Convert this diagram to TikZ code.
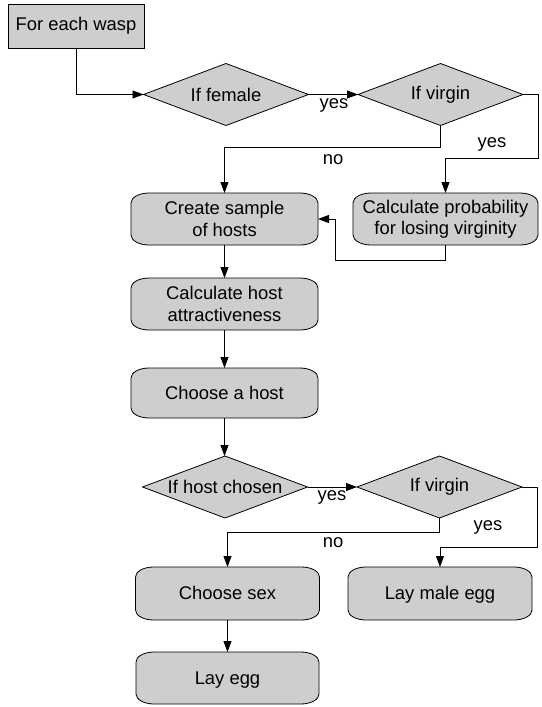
\documentclass[tikz,border=0pt]{standalone}
\usepackage{fontspec}
\setmainfont{Liberation Sans}
\usetikzlibrary{arrows.meta,shapes.geometric,backgrounds,calc}
\definecolor{boxfill}{RGB}{206,206,206}
\begin{document}
\begin{tikzpicture}[x=1pt,y=-1pt,
  every node/.style={font=\fontsize{18.4}{21.5}\selectfont, outer sep=0pt},
  startbox/.style={rectangle, draw, fill=boxfill, line width=0.8pt,
    minimum width=136pt, minimum height=44pt, inner sep=0pt},
  decision/.style={diamond, draw, fill=boxfill, line width=0.8pt, aspect=2.6,
    inner sep=0pt, minimum width=165pt, minimum height=62pt},
  procbox/.style={rectangle, align=center, inner sep=0pt,
    minimum width=186pt, minimum height=52pt},
  oneline/.style={text height=12.8pt, text depth=0pt},
  procshape/.style={draw, fill=boxfill, line width=0.8pt},
  flow/.style={draw, line width=0.8pt, -{Triangle[length=11pt,width=8pt]}},
  lbl/.style={inner sep=0pt}
]
\useasboundingbox (0,0) rectangle (541,707);

% start box and first decisions
\node[startbox] (wasp) at (76,26) {For each wasp};
\node[decision] (female) at (226,94.5) {If female};
\node[decision] (virgin) at (440.5,94.5) {If virgin};

% process steps (outlines drawn on the background layer below)
\node[procbox, minimum width=187pt] (sample) at (224.5,219) {Create sample\\of hosts};
\node[procbox, minimum width=185pt] (prob) at (445.5,219) {Calculate probability\\for losing virginity};
\node[procbox, minimum width=187pt] (attr) at (224.5,304) {Calculate host\\attractiveness};
\node[procbox, oneline, minimum width=187pt, minimum height=50pt] (host) at (224.5,393) {Choose a host};
\node[decision] (chosen) at (225,487) {If host chosen};
\node[decision] (virgin2) at (439.5,487) {If virgin};
\node[procbox, oneline, minimum width=184pt, minimum height=53pt] (sex) at (227.5,593.5) {Choose sex};
\node[procbox, oneline, minimum width=184pt, minimum height=53pt] (male) at (440,593.5) {Lay male egg};
\node[procbox, oneline, minimum width=183pt] (egg) at (227.5,678) {Lay egg};

% rounded process outlines with elliptical corners
\begin{scope}[on background layer]
\foreach \n in {sample,prob,attr,host,sex,male,egg}{
  \path[procshape] ([xshift=18pt]\n.north west) -- ([xshift=-18pt]\n.north east)
    arc[start angle=90,end angle=0,x radius=18pt,y radius=10pt]
    -- ([yshift=10pt]\n.south east)
    arc[start angle=0,end angle=-90,x radius=18pt,y radius=10pt]
    -- ([xshift=18pt]\n.south west)
    arc[start angle=-90,end angle=-180,x radius=18pt,y radius=10pt]
    -- ([yshift=-10pt]\n.north west)
    arc[start angle=180,end angle=90,x radius=18pt,y radius=10pt] -- cycle;
}
\end{scope}

% connectors
\draw[flow] (wasp.south) |- (female.west);
\draw[flow] (female.east) -- (virgin.west);
\draw[flow] (virgin.south) -- ++(0,22) -| (sample.north);
\draw[flow] (virgin.east) -- (538,94.5) -- (538,158) -| (prob.north);
\draw[flow] (prob.south) -- ++(0,15) -| (335,219) -- (sample.east);
\draw[flow] (sample.south) -- (attr.north);
\draw[flow] (attr.south) -- (host.north);
\draw[flow] (host.south) -- (host.south |- chosen.north);
\draw[flow] (chosen.east) -- (virgin2.west);
\draw[flow] (virgin2.south) -- ++(0,14) -| (sex.north);
\draw[flow] (virgin2.east) -- (537,487) -- (537,547) -| (male.north);
\draw[flow] (sex.south) -- (egg.north);

% branch labels
\node[lbl] (l1) at (334,105) {yes};
\node[lbl] (l2) at (333,160) {no};
\node[lbl] (l3) at (492,144) {yes};
\node[lbl] (l4) at (332,497) {yes};
\node[lbl] (l5) at (333,543) {no};
\node[lbl] (l6) at (488,527) {yes};
\end{tikzpicture}
\end{document}
